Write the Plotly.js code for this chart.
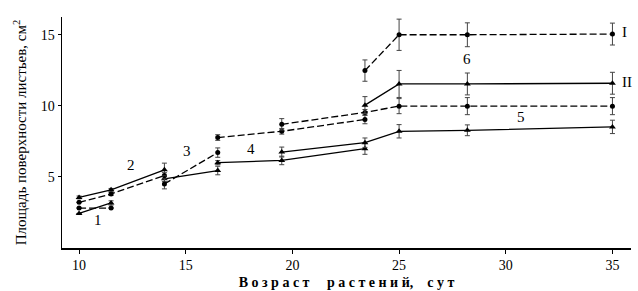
<!DOCTYPE html>
<html>
<head>
<meta charset="utf-8">
<script src="https://cdn.plot.ly/plotly-3.0.1.min.js"></script>
<style>html,body{margin:0;padding:0;background:#fff;}#chart{width:638px;height:291px;}</style>
</head>
<body>
<div id="chart"></div>
<script>
// Age of plants, days
const days = [10, 11.5, 14, 16.5, 19.5, 23.4, 25, 28.2, 35];

// Segment 1
const seg1Solid  = [2.43, 3.17, null, null, null, null, null, null, null];
const seg1Dashed = [2.81, 2.81, null, null, null, null, null, null, null];
// Segment 2
const seg2Solid  = [3.56, 4.09, 5.50, null, null, null, null, null, null];
const seg2Dashed = [3.21, 3.80, 5.10, null, null, null, null, null, null];
// Segment 3
const seg3Solid  = [null, null, 4.87, 5.45, null, null, null, null, null];
const seg3Dashed = [null, null, 4.51, 6.71, null, null, null, null, null];
// Segment 4
const seg4Solid  = [null, null, null, 6.00, 6.16, 6.99, null, null, null];
const seg4Dashed = [null, null, null, 7.77, 8.21, 9.04, null, null, null];
// Segment 5
const seg5Solid  = [null, null, null, null, 6.75, 7.41, 8.21, 8.28, 8.52];
const seg5Dashed = [null, null, null, null, 8.70, 9.54, 9.98, 9.98, 9.98];
// Segment 6 (curves I and II)
const seg6Solid  = [null, null, null, null, null, 10.05, 11.54, 11.54, 11.59];
const seg6Dashed = [null, null, null, null, null, 12.48, 15.00, 15.00, 15.05];

// Error bars (±)
const err1Solid  = [0, 0.15, 0, 0, 0, 0, 0, 0, 0];
const err1Dashed = [0, 0, 0, 0, 0, 0, 0, 0, 0];
const err2Solid  = [0.1, 0.1, 0.47, 0, 0, 0, 0, 0, 0];
const err2Dashed = [0, 0.1, 0.2, 0, 0, 0, 0, 0, 0];
const err3Solid  = [0, 0, 0.2, 0.3, 0, 0, 0, 0, 0];
const err3Dashed = [0, 0, 0.35, 0.33, 0, 0, 0, 0, 0];
const err4Solid  = [0, 0, 0, 0.15, 0.3, 0.4, 0, 0, 0];
const err4Dashed = [0, 0, 0, 0.2, 0.2, 0.3, 0, 0, 0];
const err5Solid  = [0, 0, 0, 0, 0.35, 0.33, 0.47, 0.38, 0.47];
const err5Dashed = [0, 0, 0, 0, 0.4, 0.2, 0.53, 0.6, 0.6];
const err6Solid  = [0, 0, 0, 0, 0, 0.6, 0.95, 0.77, 0.77];
const err6Dashed = [0, 0, 0, 0, 0, 0.75, 1.1, 0.84, 0.77];

const xTicks = [10, 15, 20, 25, 30, 35];
const yTicks = [5, 10, 15];

const labelText = ['1', '2', '3', '4', '5', '6', 'I', 'II', 'a'];
const labelX    = [10.9, 12.43, 15.04, 18.06, 30.71, 28.18, 35.58, 35.7, 34.46];
const labelY    = [1.98, 5.87, 6.82, 6.94, 9.2, 13.3, 15.2, 11.68, 17.06];

const ink = '#000000';
const errInk = '#444444';

function curve(y, err, dashed) {
  return {
    x: days, y: y, type: 'scatter', mode: 'lines+markers',
    connectgaps: false, cliponaxis: false, showlegend: false,
    line: {color: ink, width: 1.3, dash: dashed ? '7px,3px' : 'solid'},
    marker: {color: ink, size: dashed ? 5 : 6, symbol: dashed ? 'circle' : 'triangle-up'},
    error_y: {type: 'data', array: err, visible: true, color: errInk, thickness: 1, width: 2.5}
  };
}

const data = [
  curve(seg1Solid, err1Solid, false), curve(seg1Dashed, err1Dashed, true),
  curve(seg2Solid, err2Solid, false), curve(seg2Dashed, err2Dashed, true),
  curve(seg3Solid, err3Solid, false), curve(seg3Dashed, err3Dashed, true),
  curve(seg4Solid, err4Solid, false), curve(seg4Dashed, err4Dashed, true),
  curve(seg5Solid, err5Solid, false), curve(seg5Dashed, err5Dashed, true),
  curve(seg6Solid, err6Solid, false), curve(seg6Dashed, err6Dashed, true)
];

const serif = 'Liberation Serif';

const annotations = labelText.map((t, i) => ({
  x: labelX[i], y: labelY[i], xref: 'x', yref: 'y', text: t, showarrow: false,
  font: {family: serif, size: 15, color: ink}
}));

const layout = {
  width: 638, height: 291,
  margin: {l: 62, r: 7, t: 17, b: 43},
  paper_bgcolor: '#fff', plot_bgcolor: '#fff',
  font: {family: serif, color: ink},
  xaxis: {
    range: [9.2, 35.87], tickvals: xTicks, ticktext: xTicks.map(String),
    showgrid: false, zeroline: false, showline: true, linecolor: ink, linewidth: 1.5,
    ticks: 'outside', ticklen: 4, tickwidth: 1, tickcolor: ink,
    tickfont: {family: serif, size: 14, color: ink},
    title: {text: '<b>В о з р а с т\u00A0\u00A0\u00A0\u00A0 р а с т е н и й,\u00A0\u00A0\u00A0 с у т</b>',
            font: {family: serif, size: 14, color: ink}, standoff: 5}
  },
  yaxis: {
    range: [0, 16.25], tickvals: yTicks, ticktext: yTicks.map(String),
    showgrid: false, zeroline: false, showline: true, linecolor: ink, linewidth: 1.5,
    ticks: 'outside', ticklen: 3, tickwidth: 1, tickcolor: ink,
    tickfont: {family: serif, size: 14, color: ink},
    title: {text: 'Площадь поверхности листьев, см<sup>2</sup>',
            font: {family: serif, size: 15, color: ink}, standoff: 10}
  },
  annotations: annotations
};

Plotly.newPlot('chart', data, layout, {displayModeBar: false, staticPlot: true});
</script>
</body>
</html>
